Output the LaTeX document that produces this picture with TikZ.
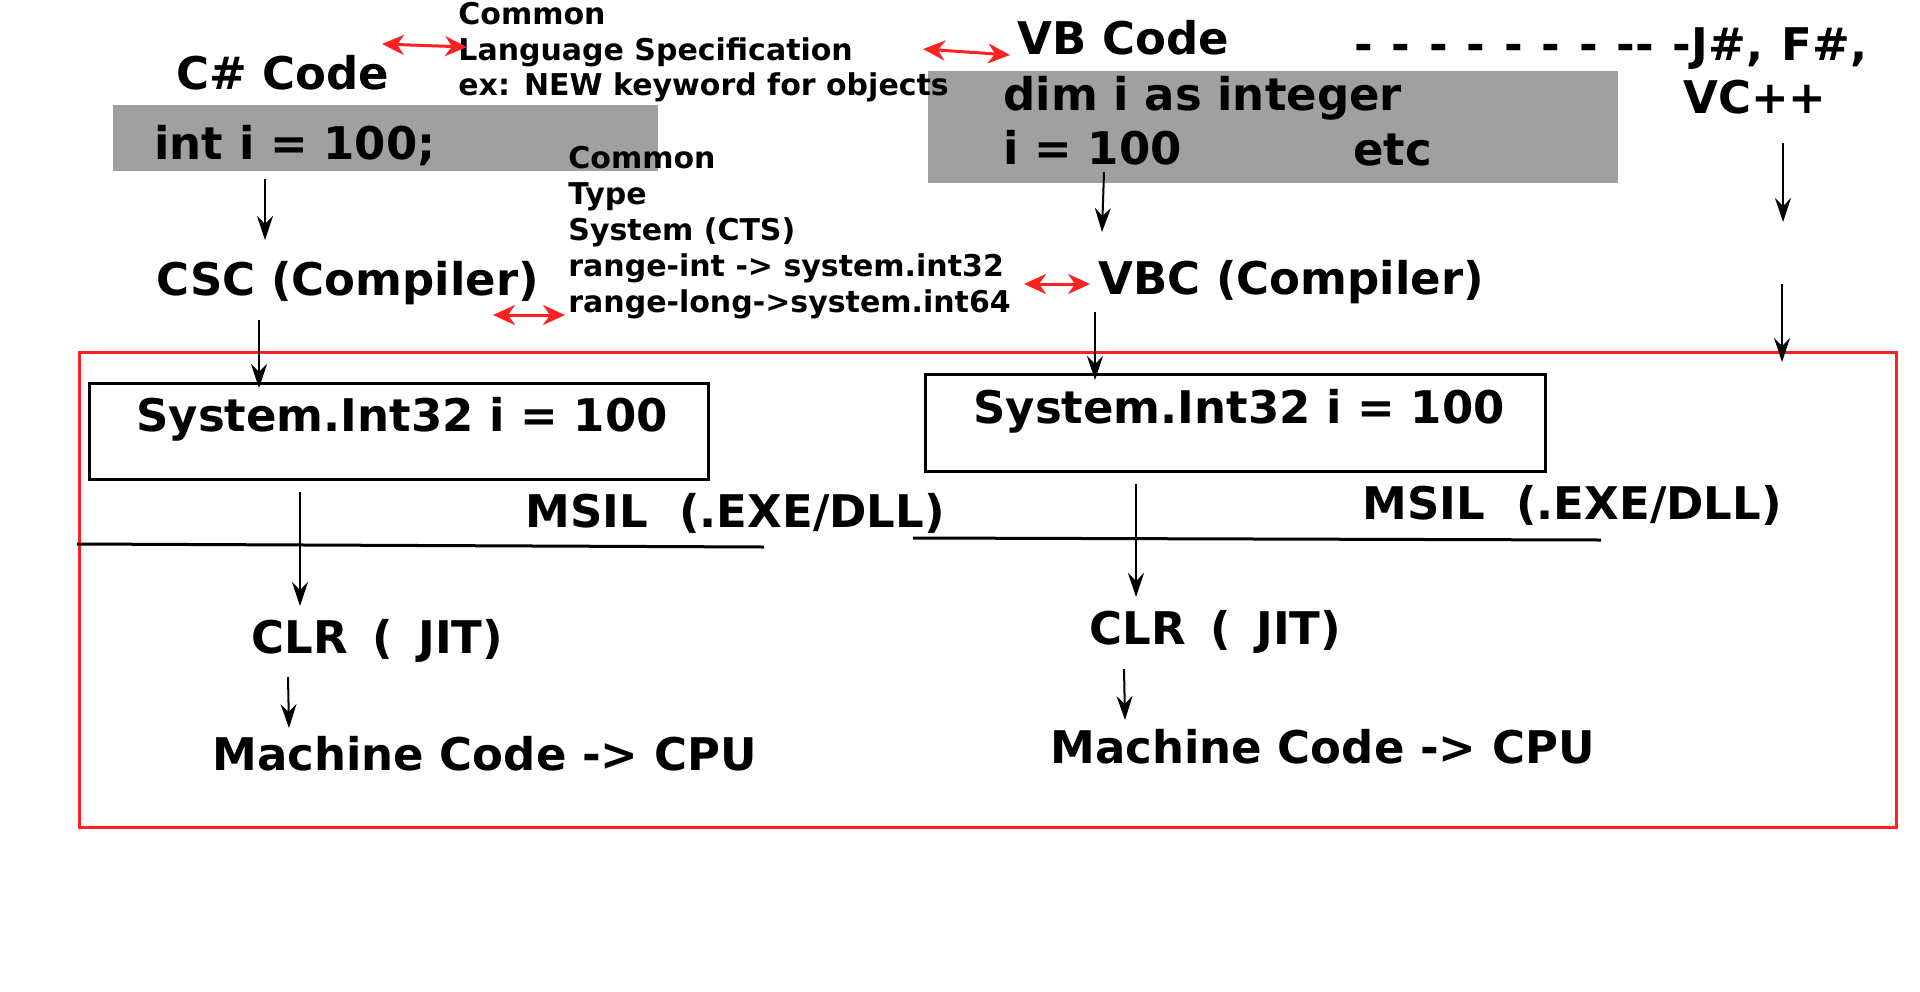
\documentclass[tikz,border=0pt]{standalone}
\usepackage{fontspec}
\setmainfont{DejaVu Sans}
\usetikzlibrary{arrows.meta}
\definecolor{boxgrey}{RGB}{160,160,160}
\definecolor{myred}{RGB}{255,32,32}
\newcommand{\widesp}[1]{\spaceskip=#1\fontdimen2\font\relax}
\tikzset{
  big/.style={font=\fontsize{22.5}{27}\selectfont\bfseries, inner sep=0pt, anchor=base west},
  small/.style={font=\fontsize{15}{18}\selectfont\bfseries, inner sep=0pt, anchor=base west},
  greybox/.style={fill=boxgrey, draw=none, anchor=north west, inner sep=0pt},
  codebox/.style={draw=black, line width=1.25pt, anchor=north west, inner sep=0pt},
  arr/.style={draw=black, line width=1pt, -{Stealth[length=12pt, width=8pt, inset=4pt]}},
  redarr/.style={draw=myred, line width=1.5pt, {Stealth[length=11pt, width=10pt, inset=3.5pt]}-{Stealth[length=11pt, width=10pt, inset=3.5pt]}},
  msline/.style={draw=black, line width=1.5pt}
}
\begin{document}
\begin{tikzpicture}[x=0.5pt, y=-0.5pt]
\useasboundingbox (0,0) rectangle (1920,991);
% grey code boxes
\node[greybox, minimum width=272.5pt, minimum height=33pt] (gb1) at (113,105) {};
\node[greybox, minimum width=345pt, minimum height=56pt] (gb2) at (928,71) {};
% red frame
\node[draw=myred, line width=1.5pt, anchor=north west, inner sep=0pt, minimum width=908.5pt, minimum height=237.5pt] (frame) at (78,351) {};
% System boxes
\node[codebox, minimum width=309.5pt, minimum height=48pt] (sbL) at (88,382) {};
\node[codebox, minimum width=310pt, minimum height=48.5pt] (sbR) at (924,373) {};
% left column text
\node[big] (cscode) at (176,89) {C\# Code};
\node[big] (intI) at (154,159) {int i = 100;};
\node[big] (csc) at (156,295) {CSC (Compiler)};
\node[big] (sysL) at (136,431) {System.Int32 i = 100};
\node[big] (msilL) at (525,527) {MSIL~ (.EXE/DLL)};
\node[big] (clrL) at (251,653) {\widesp{1.6}CLR ( JIT)};
\node[big] (mcL) at (212,770) {Machine Code -> CPU};
% right column text
\node[big] (vbcode) at (1017,54) {VB Code};
\node[big] (dim) at (1003,110) {dim i as integer};
\node[big] (i100) at (1003,164) {i = 100};
\node[big] (etc) at (1353,165) {etc};
\node[big] (vbc) at (1098,294) {VBC (Compiler)};
\node[big] (sysR) at (973,423) {System.Int32 i = 100};
\node[big] (msilR) at (1362,519) {MSIL~ (.EXE/DLL)};
\node[big] (clrR) at (1089,644) {\widesp{1.6}CLR ( JIT)};
\node[big] (mcR) at (1050,763) {Machine Code -> CPU};
% other languages
\node[big] (jf) at (1354,60) {\widesp{1.2}- - - - - - - -{}- -J\#, F\#,};
\node[big] (vc) at (1683,113) {VC++};
% CLS text
\node[small] (cls1) at (458,24) {Common};
\node[small] (cls2) at (458,60) {Language Specification};
\node[small] (cls3) at (458,95.5) {ex: NEW keyword for objects};
% CTS text
\node[small] (cts1) at (568,168) {Common};
\node[small] (cts2) at (568,204) {Type};
\node[small] (cts3) at (568,240) {System (CTS)};
\node[small] (cts4) at (568,276) {range-int -> system.int32};
\node[small] (cts5) at (568,312) {range-long->system.int64};
% MSIL lines
\coordinate (mlL1) at (77,544); \coordinate (mlL2) at (764,547);
\coordinate (mlR1) at (913,538); \coordinate (mlR2) at (1601,540);
\draw[msline] (mlL1) -- (mlL2);
\draw[msline] (mlR1) -- (mlR2);
% black arrows
\coordinate (a1s) at (265,179); \coordinate (a1e) at (265,240);
\coordinate (a2s) at (259,320); \coordinate (a2e) at (259,388);
\coordinate (a3s) at (300,492); \coordinate (a3e) at (300,606);
\coordinate (a4s) at (288,677); \coordinate (a4e) at (289,728);
\coordinate (a5s) at (1104,172); \coordinate (a5e) at (1102,232);
\coordinate (a6s) at (1095,312); \coordinate (a6e) at (1095,380);
\coordinate (a7s) at (1136,484); \coordinate (a7e) at (1136,597);
\coordinate (a8s) at (1124,669); \coordinate (a8e) at (1125,720);
\coordinate (a9s) at (1783,143); \coordinate (a9e) at (1783,222);
\coordinate (a10s) at (1782,284); \coordinate (a10e) at (1782,362);
\draw[arr] (a1s) -- (a1e);
\draw[arr] (a2s) -- (a2e);
\draw[arr] (a3s) -- (a3e);
\draw[arr] (a4s) -- (a4e);
\draw[arr] (a5s) -- (a5e);
\draw[arr] (a6s) -- (a6e);
\draw[arr] (a7s) -- (a7e);
\draw[arr] (a8s) -- (a8e);
\draw[arr] (a9s) -- (a9e);
\draw[arr] (a10s) -- (a10e);
% red double arrows
\coordinate (r1s) at (382,44); \coordinate (r1e) at (467,47);
\coordinate (r2s) at (923,49); \coordinate (r2e) at (1010,55);
\coordinate (r3s) at (493,315); \coordinate (r3e) at (565,315);
\coordinate (r4s) at (1024,284); \coordinate (r4e) at (1090,284);
\draw[redarr] (r1s) -- (r1e);
\draw[redarr] (r2s) -- (r2e);
\draw[redarr] (r3s) -- (r3e);
\draw[redarr] (r4s) -- (r4e);
\end{tikzpicture}
\end{document}
